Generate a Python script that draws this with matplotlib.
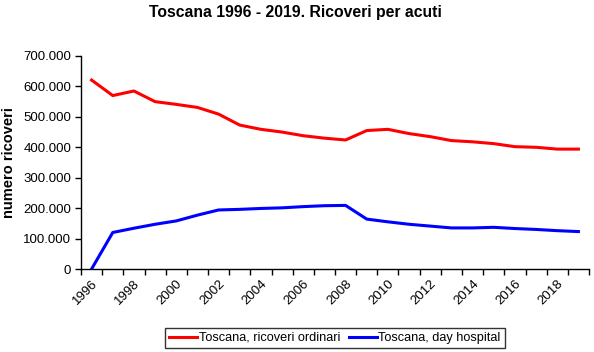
import matplotlib
matplotlib.use("Agg")
from matplotlib import pyplot as plt
from matplotlib.ticker import FuncFormatter
import numpy as np

plt.rcParams['font.family'] = ['Liberation Sans', 'DejaVu Sans']

# dati
anni = list(range(1996, 2020))
ordinari = [621000, 570000, 585000, 550000, 541000, 531000, 509000, 473000,
            459000, 450000, 438000, 430000, 424000, 455000, 459000, 445000,
            435000, 422000, 418000, 412000, 402000, 400000, 394000, 394000]
day_hospital = [0, 120000, 134000, 147000, 158000, 177000, 194000, 196000,
                199000, 201000, 205000, 208000, 209000, 164000, 155000, 147000,
                141000, 135000, 135000, 137000, 133000, 130000, 126000, 123000]

W, H = 594, 352
fig = plt.figure(figsize=(W / 100, H / 100), dpi=100)
ax = fig.add_axes([81 / W, 1 - 269 / H, (589 - 81) / W, (269 - 56) / H])

x = np.arange(len(anni))
ax.plot(x, ordinari, color='#ff0000', lw=2.2, label='Toscana, ricoveri ordinari')
ax.plot(x, day_hospital, color='#0000ff', lw=2.2, label='Toscana, day hospital')

ax.set_xlim(-0.5, len(anni) - 0.5)
ax.set_ylim(0, 700000)

# asse categorie stile Excel
ax.set_xticks(np.arange(-0.5, len(anni)), minor=True)
ax.set_xticks(x[::2])
ax.set_xticklabels([str(a) for a in anni[::2]], rotation=45, ha='right',
                   rotation_mode='anchor', fontsize=9.5)
ax.tick_params(axis='x', which='major', length=0, pad=6)
ax.tick_params(axis='x', which='minor', length=4, direction='out', width=1)

ax.set_yticks(np.arange(0, 700001, 100000))
ax.yaxis.set_major_formatter(FuncFormatter(lambda v, p: '0' if v == 0 else f'{int(v):,}'.replace(',', '.')))
ax.tick_params(axis='y', length=4, direction='out', width=1, labelsize=9.5, pad=3)

for s in ['top', 'right']:
    ax.spines[s].set_visible(False)
for s in ['left', 'bottom']:
    ax.spines[s].set_linewidth(1)

ax.set_ylabel('numero ricoveri', fontsize=10.5, fontweight='bold', labelpad=5)

fig.text(295 / W, 1 - 13 / H, 'Toscana 1996 - 2019. Ricoveri per acuti',
         ha='center', va='center', fontsize=11.3, fontweight='bold')

leg = fig.legend(loc='center', bbox_to_anchor=(335 / W, 1 - 338 / H), ncol=2,
                 fontsize=9.2, frameon=True, fancybox=False, handlelength=2.2,
                 handletextpad=0.1, columnspacing=0.7, borderpad=0.35,
                 borderaxespad=0)
leg.get_frame().set_edgecolor('black')
leg.get_frame().set_linewidth(1)

fig.savefig('out.png', dpi=100)
